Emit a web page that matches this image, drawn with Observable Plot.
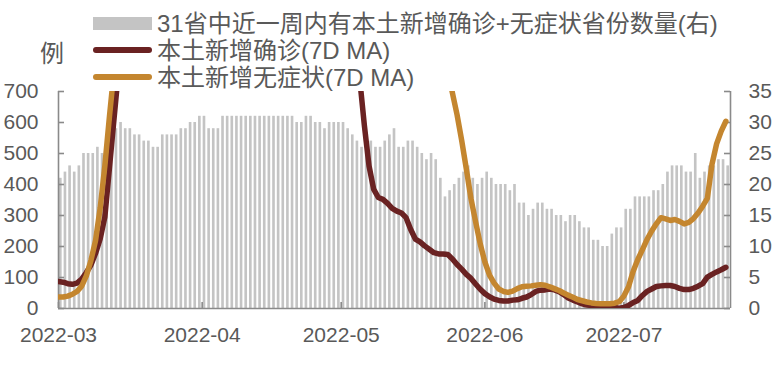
<!DOCTYPE html>
<html><head><meta charset="utf-8">
<script src="https://cdn.jsdelivr.net/npm/d3@7"></script>
<script src="https://cdn.jsdelivr.net/npm/@observablehq/plot@0.6"></script>
<style>
body{margin:0;background:#fff;}
#wrap{position:relative;width:783px;height:368px;font-family:"Liberation Sans","Noto Sans CJK SC",sans-serif;color:#595959;}
#wrap svg{position:absolute;left:0;top:0;overflow:visible;}
.lg{position:absolute;font-size:24px;line-height:27px;white-space:nowrap;color:#595959;}
.sw{position:absolute;}
</style></head><body><div id="wrap"></div>
<script>
// ---- data ----
const startDate = "2022-03-01";
// right axis: number of provinces (of 31) with local confirmed + asymptomatic cases in the past week
const provinceCount = [21,22,23,22,23,25,25,25,26,25,
 27,28,29,30,29,29,28,28,27,27,
 26,26,28,28,28,28,29,29,30,30,
 31,31,29,29,29,31,31,31,31,31,
 31,31,31,31,31,31,31,31,31,31,
 31,30,30,31,31,30,30,29,30,30,
 30,30,29,28,27,26,26,27,26,26,
 27,28,29,26,26,27,27,26,25,24,
 25,24,21,18,19,20,21,22,23,21,
 20,21,22,21,20,20,20,19,20,17,
 17,15,16,17,17,16,16,15,15,14,
 15,15,14,13,13,11,11,10,10,12,
 13,13,16,16,18,18,18,18,19,19,
 20,22,23,23,23,22,22,25,21,22,
 23,23,24,24,23];
// left axis: local new confirmed, 7D MA (null = above the top of the chart, not readable)
const confirmedMA = [87,85,80,78,82,95,116,140,178,225,295,455,615,775,
 ...Array(51).fill(null),
 740,590,460,385,358,352,339,323,314,308,293,255,224,215,202,191,180,176,176,174,160,142,127,110,97,79,62,48,38,30,26,24,
 24,27,28,33,37,45,55,59,60,63,60,54,45,34,27,21,15,11,10,8,6,5,4,3,1,3,10,19,26,42,55,63,71,73,74,74,71,65,61,61,65,72,80,101,110,118,125,133];
// left axis: local new asymptomatic, 7D MA (null = above the top of the chart)
const asymptomaticMA = [37,37,40,46,55,72,105,155,220,325,460,620,770,
 ...Array(71).fill(null),
 770,695,625,542,450,355,280,208,150,108,82,63,55,52,56,64,70,72,73,75,77,75,70,64,58,50,43,36,29,25,21,18,16,15,15,15,17,22,40,70,120,158,190,223,250,273,293,289,284,287,281,273,278,290,308,330,355,465,531,572,604];
const monthTicks = ["2022-03-01","2022-04-01","2022-05-01","2022-06-01","2022-07-01"];
const leftTicks = [0,100,200,300,400,500,600,700];
const rightFactor = 20; // 700 on the left = 35 on the right
const legendLabels = ["31省中近一周内有本土新增确诊+无症状省份数量(右)","本土新增确诊(7D MA)","本土新增无症状(7D MA)"];
const colors = {bar:"#c4c4c4", confirmed:"#6a2222", asym:"#c4862f", axis:"#8a8a8a", text:"#595959"};

// ---- build ----
const DAY = 864e5;
const t0 = new Date(startDate + "T00:00:00Z");
const dateOf = i => new Date(t0.getTime() + i * DAY);
const days = provinceCount.map((v, i) => ({
  date: dateOf(i), next: dateOf(i + 1), count: v,
  confirmed: confirmedMA[i], asym: asymptomaticMA[i]
}));
const tEnd = dateOf(145);
const months = monthTicks.map(s => new Date(s + "T00:00:00Z"));

const W = 783, H = 368, mL = 58, mR = 53, mT = 91, mB = 60;
const innerW = W - mL - mR, innerH = H - mT - mB;

const chart = Plot.plot({
  width: W, height: H,
  marginLeft: mL, marginRight: mR, marginTop: mT, marginBottom: mB,
  style: {fontFamily: '"Liberation Sans","Noto Sans CJK SC",sans-serif', fontSize: "21px", color: colors.text, background: "transparent", overflow: "visible"},
  x: {type: "utc", domain: [t0, tEnd], label: null},
  y: {domain: [0, 700], label: null},
  marks: [
    Plot.rect(days, {x1: "date", x2: "next", y1: 0, y2: d => d.count * rightFactor, fill: colors.bar, insetLeft: 1, insetRight: 1}),
    Plot.ruleX([t0, tEnd], {stroke: colors.axis, strokeWidth: 1.6}),
    Plot.ruleY([0], {stroke: colors.axis, strokeWidth: 1.6}),
    Plot.ruleY(leftTicks, {stroke: colors.axis, strokeWidth: 1.6, insetRight: innerW - 6}),
    Plot.ruleY(leftTicks, {stroke: colors.axis, strokeWidth: 1.6, insetLeft: innerW - 6}),
    Plot.ruleX(months, {stroke: colors.axis, strokeWidth: 1.6, insetTop: innerH - 6}),
    Plot.lineY(days, {x: "date", y: "confirmed", stroke: colors.confirmed, strokeWidth: 5.5, strokeLinejoin: "round", strokeLinecap: "round", clip: true}),
    Plot.lineY(days, {x: "date", y: "asym", stroke: colors.asym, strokeWidth: 5.5, strokeLinejoin: "round", strokeLinecap: "round", clip: true}),
    Plot.axisY(leftTicks, {anchor: "left", tickSize: 0, tickPadding: 20, fontSize: 21, label: null, fill: colors.text}),
    Plot.axisY(leftTicks, {anchor: "right", tickSize: 0, tickPadding: 18, fontSize: 21, label: null, fill: colors.text, tickFormat: d => d / rightFactor}),
    Plot.axisX(months, {anchor: "bottom", tickSize: 0, tickPadding: 19, fontSize: 21, label: null, fill: colors.text, tickFormat: d3.utcFormat("%Y-%m")})
  ]
});
const wrap = document.getElementById("wrap");
wrap.appendChild(chart);

// ---- legend (HTML, overlaid at the top) ----
function add(tag, cls, css, text) {
  const e = document.createElement(tag);
  e.className = cls;
  Object.assign(e.style, css);
  if (text) e.textContent = text;
  wrap.appendChild(e);
}
const rows = [23, 50, 77];
add("div", "sw", {left: "93px", top: (rows[0] - 6.5) + "px", width: "59px", height: "13px", background: colors.bar});
add("div", "sw", {left: "93px", top: (rows[1] - 3) + "px", width: "59px", height: "6px", borderRadius: "3px", background: colors.confirmed});
add("div", "sw", {left: "93px", top: (rows[2] - 3) + "px", width: "59px", height: "6px", borderRadius: "3px", background: colors.asym});
legendLabels.forEach((t, i) => add("div", "lg", {left: "157px", top: (rows[i] - 13.5) + "px"}, t));
add("div", "lg", {left: "40px", top: (53 - 13.5) + "px"}, "例");
</script>
</body></html>
